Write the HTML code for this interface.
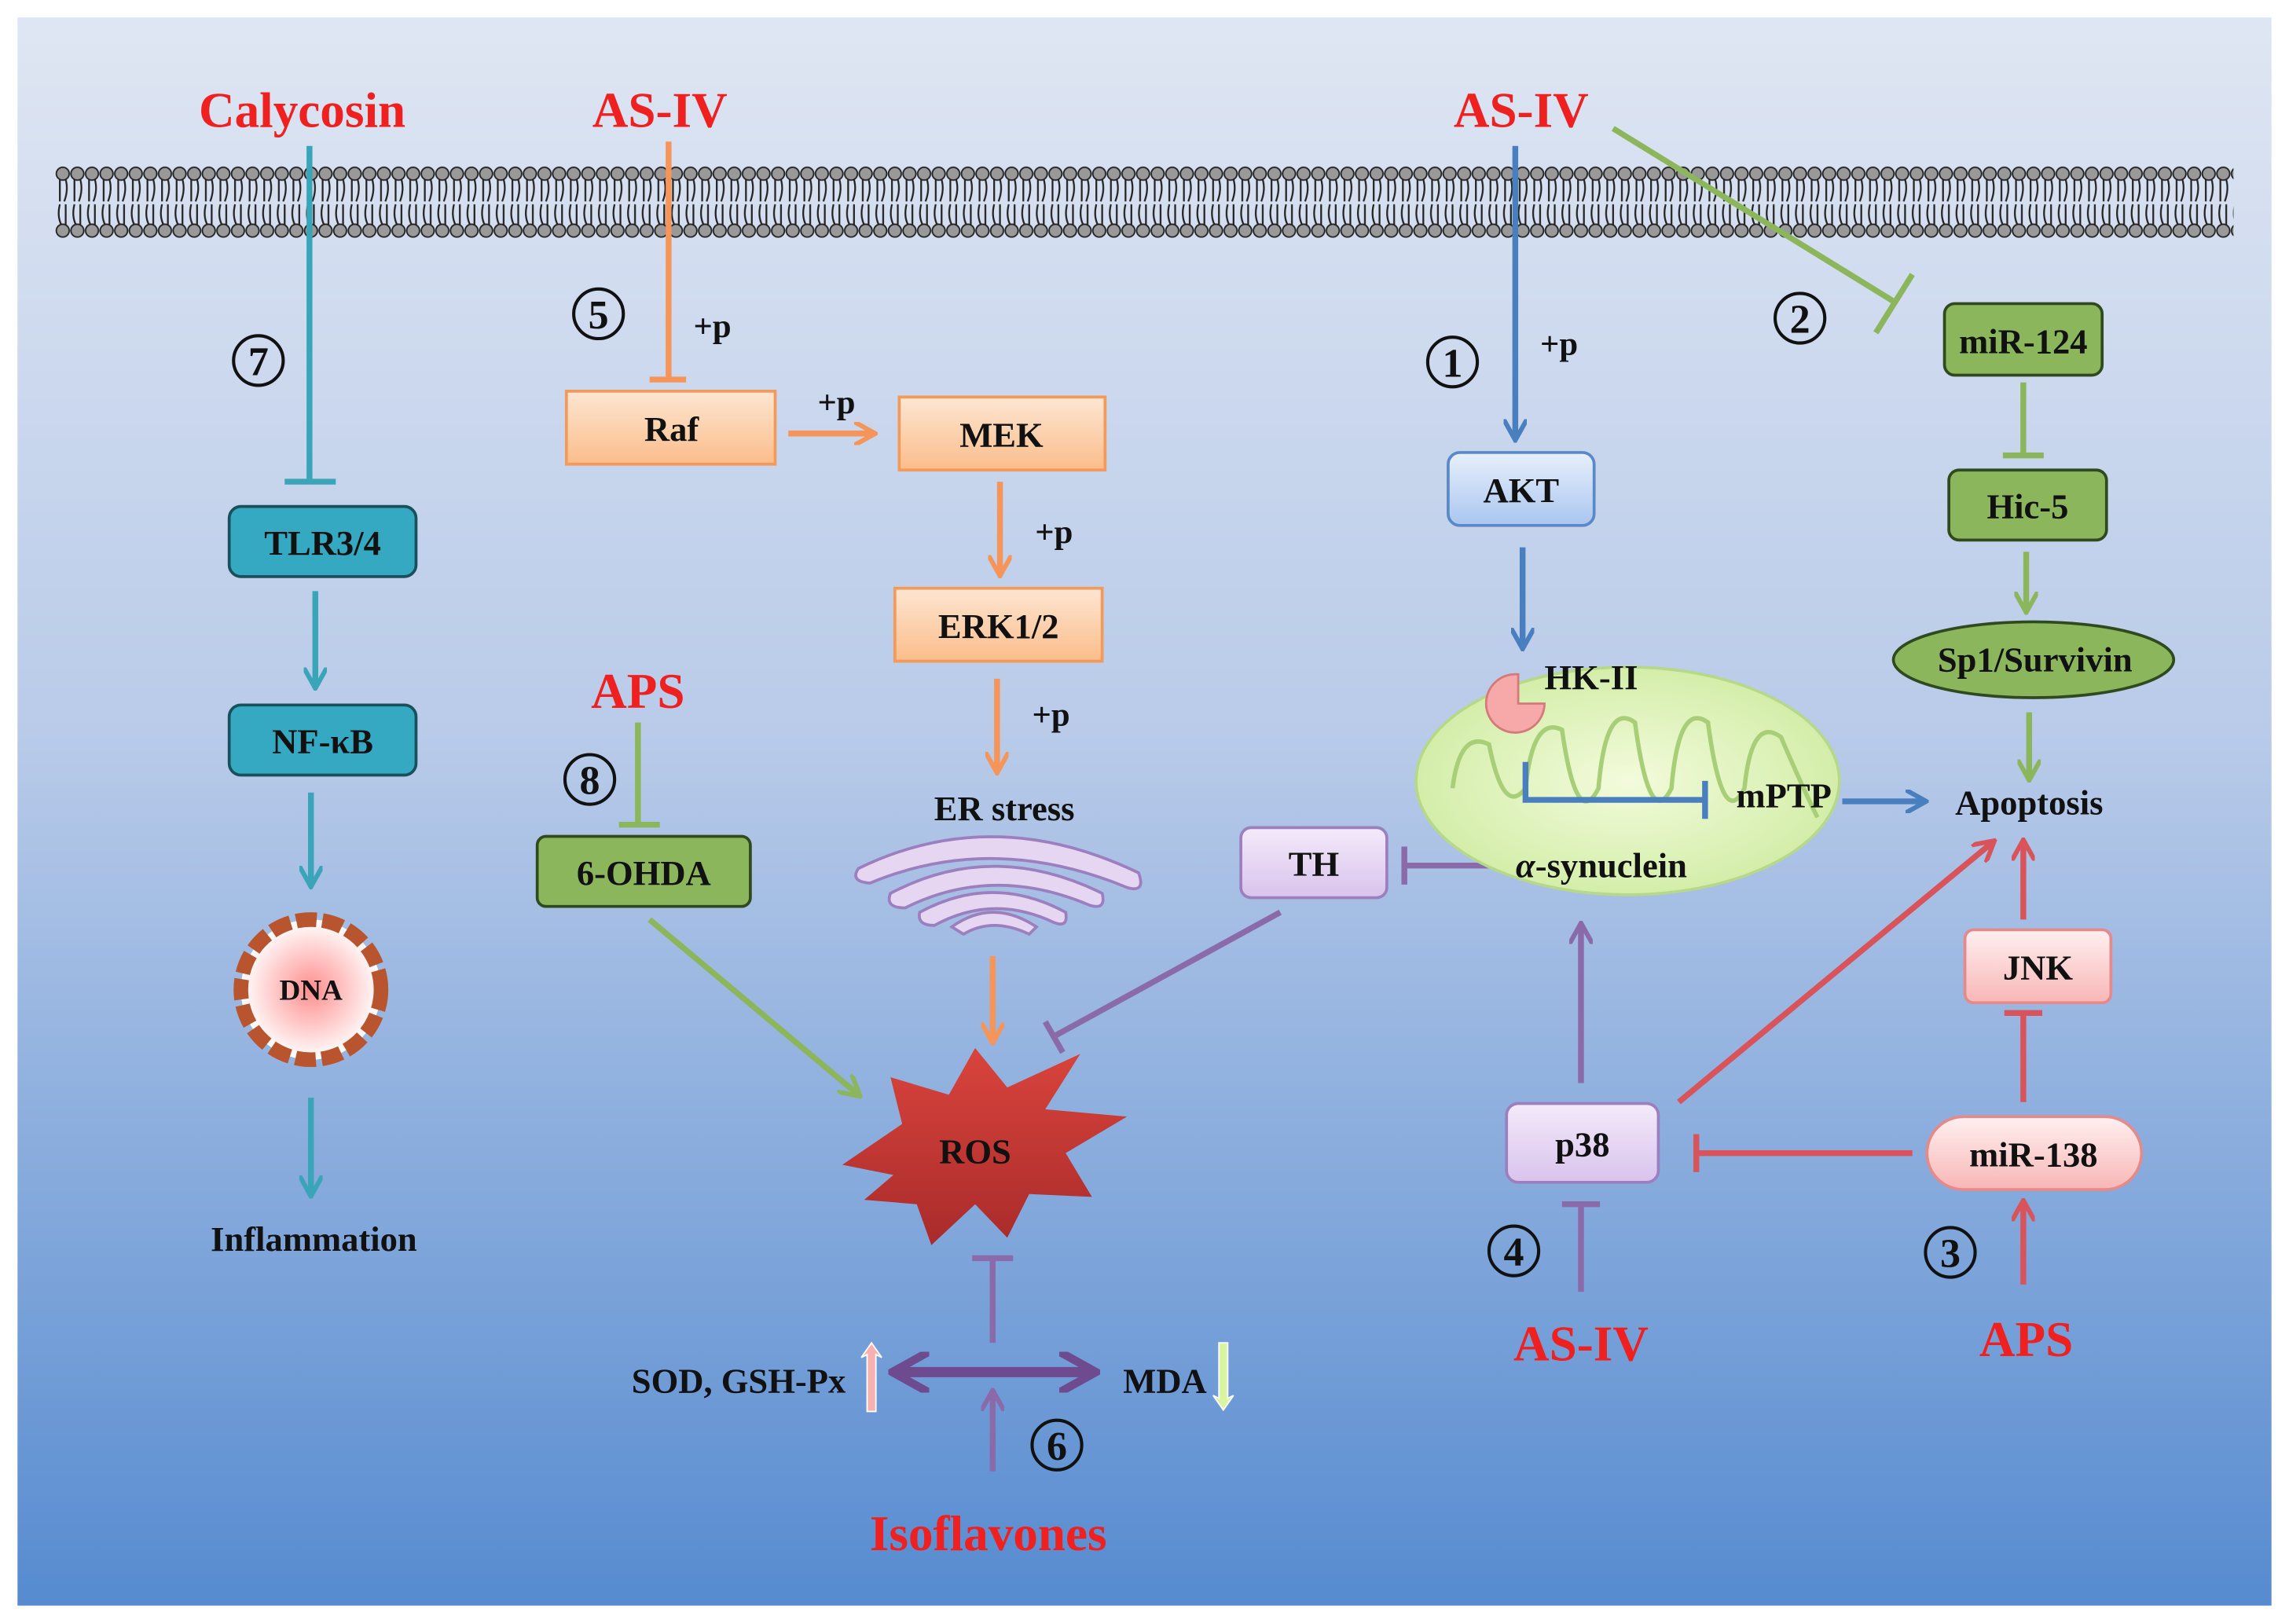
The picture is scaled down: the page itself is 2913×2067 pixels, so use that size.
<!DOCTYPE html>
<html><head><meta charset="utf-8"><style>
html,body{margin:0;padding:0;background:#fff;}
svg{display:block;}
text{font-family:"Liberation Serif",serif;font-weight:bold;}
</style></head><body>
<svg width="2913" height="2067" viewBox="0 0 1568 1112.6" preserveAspectRatio="none" xmlns="http://www.w3.org/2000/svg">
<defs>
<linearGradient id="bg" x1="0" y1="0" x2="0" y2="1">
<stop offset="0" stop-color="#dfe6f3"/><stop offset="0.45" stop-color="#b9cbe9"/><stop offset="1" stop-color="#568bd0"/></linearGradient>
<linearGradient id="og" x1="0" y1="0" x2="0" y2="1"><stop offset="0" stop-color="#fde6d2"/><stop offset="1" stop-color="#fbbd8b"/></linearGradient>
<linearGradient id="bl" x1="0" y1="0" x2="0" y2="1"><stop offset="0" stop-color="#e8f0fc"/><stop offset="1" stop-color="#a9c6ef"/></linearGradient>
<linearGradient id="pu" x1="0" y1="0" x2="0" y2="1"><stop offset="0" stop-color="#f4eafa"/><stop offset="1" stop-color="#d9c3ec"/></linearGradient>
<linearGradient id="pk" x1="0" y1="0" x2="0" y2="1"><stop offset="0" stop-color="#fff0f0"/><stop offset="1" stop-color="#f8b6b6"/></linearGradient>
<radialGradient id="mi" cx="0.5" cy="0.5" r="0.6"><stop offset="0" stop-color="#f3fbdc"/><stop offset="1" stop-color="#cdeb9f"/></radialGradient>
<radialGradient id="dna" cx="0.5" cy="0.5" r="0.5"><stop offset="0" stop-color="#ff8e8e"/><stop offset="1" stop-color="#fff"/></radialGradient>
<linearGradient id="ros" x1="0" y1="0" x2="0" y2="1"><stop offset="0" stop-color="#d9443c"/><stop offset="1" stop-color="#a92b2b"/></linearGradient>
<pattern id="memp" x="38" y="110" width="10" height="60" patternUnits="userSpaceOnUse">
<circle cx="5" cy="9" r="4.4" fill="#999" stroke="#222" stroke-width="1"/>
<circle cx="5" cy="48" r="4.4" fill="#999" stroke="#222" stroke-width="1"/>
<path d="M3 13 V28 M7 13 Q9 20 6 28 M3 30 Q1 38 4 44 M7 30 V44" stroke="#222" stroke-width="1.2" fill="none"/>
</pattern>
<marker id="a" viewBox="0 0 10 10" refX="8" refY="5" markerWidth="4" markerHeight="4" orient="auto-start-reverse"><path d="M0 0 L9 5 L0 10" fill="none" stroke="context-stroke" stroke-width="2"/></marker>
</defs>
<rect x="0" y="0" width="1568" height="1113" fill="#fff"/>
<rect x="12" y="12" width="1544" height="1088" fill="url(#bg)"/>
<rect x="38" y="110" width="1492" height="60" fill="url(#memp)"/>

<g stroke-width="4" fill="none">
<path d="M212 100 V330 M195 330 H230" stroke="#3aa5b8"/>
<path d="M216 405 V470" stroke="#3aa5b8" marker-end="url(#a)"/>
<path d="M213 543 V606" stroke="#3aa5b8" marker-end="url(#a)"/>
<path d="M213 752 V818" stroke="#3aa5b8" marker-end="url(#a)"/>
<path d="M458 97 V260 M445 260 H470" stroke="#f5955a"/>
<path d="M540 297 H598" stroke="#f5955a" marker-end="url(#a)"/>
<path d="M685 330 V393" stroke="#f5955a" marker-end="url(#a)"/>
<path d="M683 465 V528" stroke="#f5955a" marker-end="url(#a)"/>
<path d="M680 655 V713" stroke="#f5955a" marker-end="url(#a)"/>
<path d="M437 495 V565 M424 565 H452" stroke="#8cb65c"/>
<path d="M445 630 L588 750" stroke="#8cb65c" marker-end="url(#a)"/>
<path d="M877 625 L722 710 M716 700 L728 721" stroke="#8a6aa8"/>
<path d="M1032 593 H962 M962 580 V606" stroke="#8a6aa8"/>
<path d="M1038 100 V300" stroke="#4a7fbf" marker-end="url(#a)"/>
<path d="M1043 375 V443" stroke="#4a7fbf" marker-end="url(#a)"/>
<path d="M1105 88 L1298 207 M1285 228 L1310 188" stroke="#8cb65c"/>
<path d="M1386 262 V312 M1372 312 H1400" stroke="#8cb65c"/>
<path d="M1388 378 V418" stroke="#8cb65c" marker-end="url(#a)"/>
<path d="M1390 488 V533" stroke="#8cb65c" marker-end="url(#a)"/>
<path d="M1386 630 V577" stroke="#d9545a" marker-end="url(#a)"/>
<path d="M1386 755 V694 M1373 694 H1399" stroke="#d9545a"/>
<path d="M1310 790 H1162 M1162 777 V803" stroke="#d9545a"/>
<path d="M1150 755 L1365 577" stroke="#d9545a" marker-end="url(#a)"/>
<path d="M1386 880 V824" stroke="#d9545a" marker-end="url(#a)"/>
<path d="M1083 742 V634" stroke="#8a6aa8" marker-end="url(#a)"/>
<path d="M1083 885 V825 M1070 825 H1096" stroke="#8a6aa8"/>
<path d="M680 920 V862 M666 862 H694" stroke="#8a6aa8"/>
<path d="M680 1008 V954" stroke="#8a6aa8" marker-end="url(#a)"/>
<path d="M614 940 H748" stroke="#6d4b8e" stroke-width="7" marker-start="url(#a)" marker-end="url(#a)"/>
</g>

<g stroke-width="2">
<rect x="157" y="347" width="128" height="48" rx="8" fill="#35a9c1" stroke="#1a4f5c"/>
<rect x="157" y="483" width="128" height="48" rx="8" fill="#35a9c1" stroke="#1a4f5c"/>
<rect x="388" y="268" width="143" height="50" fill="url(#og)" stroke="#f39a5a"/>
<rect x="616" y="272" width="141" height="50" fill="url(#og)" stroke="#f39a5a"/>
<rect x="613" y="403" width="142" height="50" fill="url(#og)" stroke="#f39a5a"/>
<rect x="368" y="573" width="146" height="48" rx="6" fill="#8cb65c" stroke="#2f4a1e"/>
<rect x="850" y="567" width="100" height="48" rx="7" fill="url(#pu)" stroke="#9b7fbf"/>
<rect x="992" y="310" width="100" height="50" rx="8" fill="url(#bl)" stroke="#5b89c8"/>
<rect x="1332" y="208" width="108" height="49" rx="7" fill="#8cb65c" stroke="#2f4a1e"/>
<rect x="1335" y="322" width="108" height="48" rx="7" fill="#8cb65c" stroke="#2f4a1e"/>
<ellipse cx="1393" cy="452" rx="96" ry="26" fill="#8cb65c" stroke="#2f4a1e"/>
<rect x="1346" y="637" width="100" height="50" rx="6" fill="url(#pk)" stroke="#e48a8a"/>
<rect x="1320" y="765" width="147" height="50" rx="25" fill="url(#pk)" stroke="#e48a8a"/>
<rect x="1032" y="756" width="104" height="54" rx="8" fill="url(#pu)" stroke="#9b7fbf"/>
</g>

<circle cx="213" cy="678" r="48" fill="url(#dna)" stroke="#b9552e" stroke-width="10" stroke-dasharray="14 4"/>

<g fill="#e6d6f2" stroke="#9b7fbf" stroke-width="2">
<path d="M588 595 Q680 550 780 598 Q785 612 772 608 Q680 570 596 605 Q582 604 588 595Z"/>
<path d="M610 612 Q680 575 755 612 Q758 624 746 620 Q680 592 620 622 Q606 622 610 612Z"/>
<path d="M630 625 Q680 598 730 625 Q732 636 722 632 Q680 612 640 634 Q628 634 630 625Z"/>
<path d="M652 635 Q680 615 710 635 L705 640 Q680 628 660 640Z"/>
</g>

<polygon fill="url(#ros)" points="577,798 618,770 610,738 650,750 668,718 690,745 740,722 716,760 772,765 730,790 748,820 705,818 690,848 668,825 638,853 628,825 592,822 612,805" />

<ellipse cx="1115" cy="535" rx="145" ry="78" fill="url(#mi)" stroke="#b6d88a" stroke-width="2"/>
<path d="M995 540 Q1000 500 1020 510 Q1030 560 1045 540 Q1050 490 1070 500 Q1080 570 1095 540 Q1100 480 1120 495 Q1130 570 1145 540 Q1150 480 1170 495 Q1180 570 1195 540 Q1200 490 1220 505 Q1235 540 1245 560" fill="none" stroke="#a8cf78" stroke-width="3"/>
<path d="M1040 482 L1058 482 A20 20 0 1 1 1040 462 Z" fill="#f7a9a9" stroke="#d47a7a" stroke-width="1.5"/>
<g fill="none" stroke="#4a7fbf" stroke-width="4">
<path d="M1045 522 V548 H1168 M1168 535 V561"/>
<path d="M1262 549 H1318" marker-end="url(#a)"/>
</g>

<g fill="#ee2020" font-size="34" text-anchor="middle">
<text x="207" y="87">Calycosin</text>
<text x="452" y="87">AS-IV</text>
<text x="1042" y="87">AS-IV</text>
<text x="437" y="485">APS</text>
<text x="1083" y="932">AS-IV</text>
<text x="1388" y="929">APS</text>
<text x="677" y="1062">Isoflavones</text>
</g>
<g fill="#111" font-size="24" text-anchor="middle">
<text x="221" y="380">TLR3/4</text>
<text x="221" y="516">NF-κB</text>
<text x="460" y="302">Raf</text>
<text x="686" y="306">MEK</text>
<text x="684" y="437">ERK1/2</text>
<text x="441" y="606">6-OHDA</text>
<text x="900" y="600">TH</text>
<text x="1042" y="344">AKT</text>
<text x="1386" y="242">miR-124</text>
<text x="1389" y="355">Hic-5</text>
<text x="1394" y="460">Sp1/Survivin</text>
<text x="1396" y="671">JNK</text>
<text x="1393" y="799">miR-138</text>
<text x="1084" y="792">p38</text>
<text x="668" y="797">ROS</text>
<text x="1090" y="472">HK-II</text>
<text x="1222" y="553">mPTP</text>
<text x="1390" y="558">Apoptosis</text>
<text x="1097" y="601"><tspan font-style="italic">α</tspan>-synuclein</text>
<text x="688" y="562">ER stress</text>
<text x="215" y="857">Inflammation</text>
<text x="506" y="954">SOD, GSH-Px</text>
<text x="798" y="954">MDA</text>
<text x="488" y="231" font-size="23">+p</text>
<text x="573" y="283" font-size="23">+p</text>
<text x="722" y="372" font-size="23">+p</text>
<text x="720" y="497" font-size="23">+p</text>
<text x="1068" y="243" font-size="23">+p</text>
</g>
<g fill="none" stroke="#111" stroke-width="2.2">
<circle cx="177" cy="247" r="17"/><circle cx="410" cy="215" r="17"/><circle cx="404" cy="534" r="17"/>
<circle cx="995" cy="248" r="17"/><circle cx="1233" cy="218" r="17"/><circle cx="1037" cy="857" r="17"/>
<circle cx="1336" cy="858" r="17"/><circle cx="724" cy="990" r="17"/>
</g>
<g font-family="'Liberation Serif',serif" font-size="28" fill="#111" text-anchor="middle" style="font-weight:normal">
<text x="177" y="257" font-weight="normal">7</text>
<text x="410" y="225" font-weight="normal">5</text>
<text x="404" y="544" font-weight="normal">8</text>
<text x="995" y="258" font-weight="normal">1</text>
<text x="1233" y="228" font-weight="normal">2</text>
<text x="1037" y="867" font-weight="normal">4</text>
<text x="1336" y="868" font-weight="normal">3</text>
<text x="724" y="1000" font-weight="normal">6</text>
</g>
<text x="213" y="685" font-family="'Liberation Sans',sans-serif" font-size="20" text-anchor="middle" fill="#111">DNA</text>
<path d="M594 967 V928 L590 930 L597 920 L604 930 L600 928 V967Z" fill="#f9b0b0" stroke="#fff" stroke-width="1"/>
<path d="M835 920 V958 L831 956 L838 966 L845 956 L841 958 V920Z" fill="#d8f5a0" stroke="#fff" stroke-width="1"/>
</svg>
</body></html>
